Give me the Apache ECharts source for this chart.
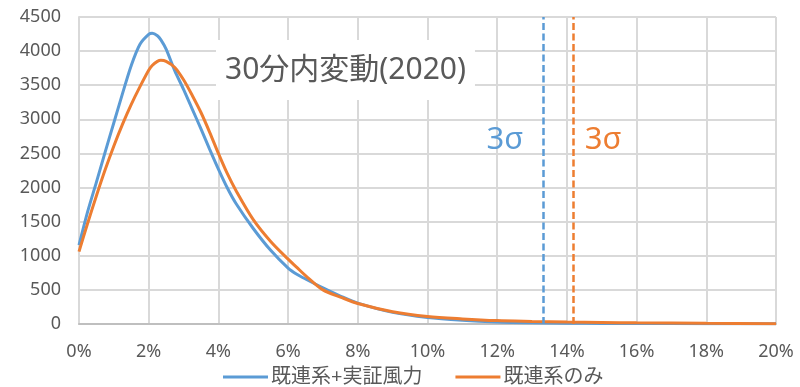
<!DOCTYPE html>
<html>
<head>
<meta charset="utf-8">
<script src="https://cdn.jsdelivr.net/npm/echarts@6/dist/echarts.min.js"></script>
<style>
  html, body { margin: 0; padding: 0; background: #fff; }
  #chart { width: 800px; height: 387px; }
</style>
</head>
<body>
<div id="chart"></div>
<script>
// 30-minute fluctuation distribution (2020), x in percent
const xPct = [0, 0.25, 0.5, 0.75, 1.0, 1.25, 1.5, 1.75, 2.0, 2.1, 2.25, 2.35, 2.5, 2.75, 3.0, 3.25, 3.5, 3.75, 4.0, 4.25, 4.5, 5.0, 5.5, 6.0, 6.25, 6.5, 7.0, 7.5, 8.0, 9.0, 10.0, 11.0, 12.0, 13.0, 14.0, 15.0, 16.0, 18.0, 20.0];
const withWind = [1155, 1650, 2080, 2520, 2950, 3380, 3790, 4100, 4245, 4260, 4225, 4165, 4030, 3710, 3440, 3150, 2860, 2560, 2270, 2000, 1770, 1400, 1080, 820, 730, 660, 530, 410, 305, 170, 95, 55, 30, 18, 12, 9, 7, 5, 3];
const existingOnly = [1060, 1480, 1880, 2260, 2610, 2930, 3220, 3480, 3720, 3790, 3850, 3865, 3850, 3760, 3580, 3350, 3100, 2810, 2500, 2210, 1960, 1530, 1210, 950, 830, 710, 500, 395, 300, 180, 110, 75, 50, 38, 28, 22, 17, 10, 5];
const seriesNames = ['既連系+実証風力', '既連系のみ'];
const sigma3 = [13.32, 14.18];
const titleText = '30分内変動(2020)';
const sigmaLabel = '3σ';

const BLUE = '#5B9BD5';
const ORANGE = '#ED7D31';
const TXT = '#595959';
const FONT = '"Noto Sans", "Noto Sans CJK JP", sans-serif';

const pairs = vals => xPct.map((x, i) => [x, vals[i]]);

// dashed 3σ marker plus its text label for one series
const sigmaMarks = (x, color, labelX) => ({
  markLine: {
    silent: true,
    symbol: 'none',
    label: { show: false },
    lineStyle: { color: color, width: 2.5, type: [7, 3.5] },
    data: [{ xAxis: x }]
  },
  markPoint: {
    silent: true,
    symbol: 'rect',
    symbolSize: 1,
    itemStyle: { color: 'transparent' },
    label: { show: true, position: 'inside', formatter: sigmaLabel, fontFamily: FONT, fontSize: 31, color: color },
    data: [{ coord: [labelX, 2700] }]
  }
});

const chart = echarts.init(document.getElementById('chart'));
chart.setOption({
  backgroundColor: '#fff',
  animation: false,
  title: {
    text: titleText,
    left: 216,
    top: 40,
    padding: [15, 9],
    backgroundColor: '#fff',
    textStyle: { fontFamily: FONT, fontSize: 30, fontWeight: 'normal', color: TXT }
  },
  legend: {
    bottom: 0,
    left: 223,
    padding: 0,
    icon: 'rect',
    itemWidth: 45,
    itemHeight: 3,
    itemGap: 33,
    textStyle: { fontFamily: FONT, fontSize: 20, color: TXT, padding: [0, 0, 0, -2] },
    data: seriesNames
  },
  grid: { left: 79, right: 24, top: 17, bottom: 63 },
  xAxis: {
    type: 'value',
    min: 0, max: 20, interval: 2,
    axisLine: { show: true, lineStyle: { color: '#bfbfbf', width: 2 } },
    axisTick: { show: false },
    axisLabel: { formatter: v => v + '%', fontFamily: FONT, fontSize: 18, color: TXT, margin: 19 },
    splitLine: { show: true, lineStyle: { color: '#d9d9d9', width: 2 } }
  },
  yAxis: {
    type: 'value',
    min: 0, max: 4500, interval: 500,
    axisLine: { show: true, lineStyle: { color: '#d9d9d9', width: 2 } },
    axisTick: { show: false },
    axisLabel: { formatter: v => String(v), fontFamily: FONT, fontSize: 18, color: TXT, margin: 18 },
    splitLine: { show: true, lineStyle: { color: '#d9d9d9', width: 2 } }
  },
  series: [
    Object.assign({
      name: seriesNames[0],
      type: 'line',
      smooth: 0.3,
      symbol: 'none',
      lineStyle: { color: BLUE, width: 3 },
      itemStyle: { color: BLUE },
      data: pairs(withWind)
    }, sigmaMarks(sigma3[0], BLUE, 12.22)),
    Object.assign({
      name: seriesNames[1],
      type: 'line',
      smooth: 0.3,
      symbol: 'none',
      lineStyle: { color: ORANGE, width: 3 },
      itemStyle: { color: ORANGE },
      data: pairs(existingOnly)
    }, sigmaMarks(sigma3[1], ORANGE, 15.04))
  ]
});
</script>
</body>
</html>
